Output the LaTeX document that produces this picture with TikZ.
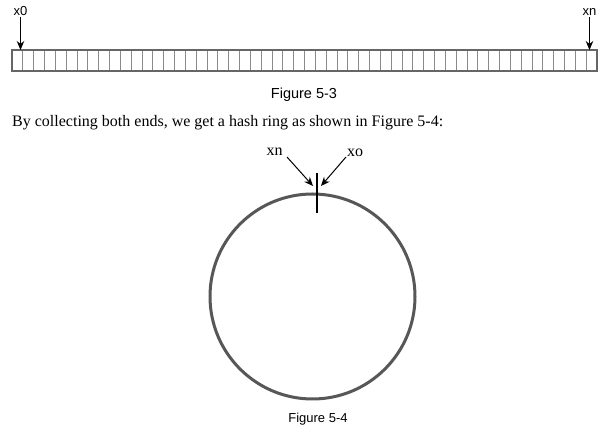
\documentclass[tikz,border=0pt]{standalone}
\usepackage{fontspec}
\setmainfont{Liberation Serif}
\setsansfont{Liberation Sans}
\usetikzlibrary{arrows.meta}
\definecolor{ringgray}{HTML}{575757}
\definecolor{slotgray}{HTML}{8A8A8A}
\definecolor{bargray}{HTML}{666666}

\begin{document}
\begin{tikzpicture}[x=1pt, y=-1pt,
            slot/.style={color=slotgray, line width=0.7pt},
            bar/.style={draw=bargray, line width=1.3pt},
            pointer/.style={-{Stealth[length=9pt, width=7.5pt]}, line width=1pt},
            endlabel/.style={font=\sffamily\fontsize{13}{15}\selectfont, inner sep=1pt},
            caption/.style={font=\sffamily\fontsize{14.5}{16}\selectfont},
            captionsmall/.style={font=\sffamily\fontsize{13}{15}\selectfont},
            bodytext/.style={font=\fontsize{16}{19}\selectfont, inner sep=0pt},
            ringlabel/.style={font=\fontsize{16}{18}\selectfont, inner sep=1pt},
            ring/.style={circle, draw=ringgray, line width=3pt, inner sep=0pt, minimum size=205pt},
            marker/.style={color=black, line width=1.8pt}
        ]
            \useasboundingbox (0,0) rectangle (614,438);

            % slots of the array
            \foreach \i in {1,...,53}{
                \draw[slot] (12+\i*10.833, 50) -- (12+\i*10.833, 71);
            }
            \draw[bar] (12,50) rectangle (597,71);

            % both ends
            \node[endlabel] (x0) at (20.5, 11) {x0};
            \coordinate (x0pos) at (20.5, 50);
            \draw[pointer] (x0) -- (x0pos);
            \node[endlabel] (xnend) at (589.5, 12.5) {xn};
            \coordinate (xnpos) at (589.5, 50);
            \draw[pointer] (xnend) -- (xnpos);

            \node[caption] (fig3) at (304, 95) {Figure 5-3};

            % text between the figures
            \node[bodytext, anchor=base west] (intro) at (12, 127)
                {By collecting both ends, we get a hash ring as shown in Figure 5-4:};

            % the ring
            \node[ring] (hashring) at (312.5, 296.5) {};
            \coordinate (ticktop) at (317, 173);
            \coordinate (tickbot) at (317, 213);
            \draw[marker] (ticktop) -- (tickbot);

            \node[ringlabel] (xn) at (274.5, 152) {xn};
            \node[ringlabel] (xo) at (355, 152.5) {xo};
            \coordinate (xnfrom) at (287, 157);
            \coordinate (xnto) at (313, 186);
            \coordinate (xofrom) at (346, 157);
            \coordinate (xoto) at (321, 186);
            \draw[pointer] (xnfrom) -- (xnto);
            \draw[pointer] (xofrom) -- (xoto);

            \node[captionsmall] (fig4) at (318, 419) {Figure 5-4};

        \end{tikzpicture}
\end{document}
